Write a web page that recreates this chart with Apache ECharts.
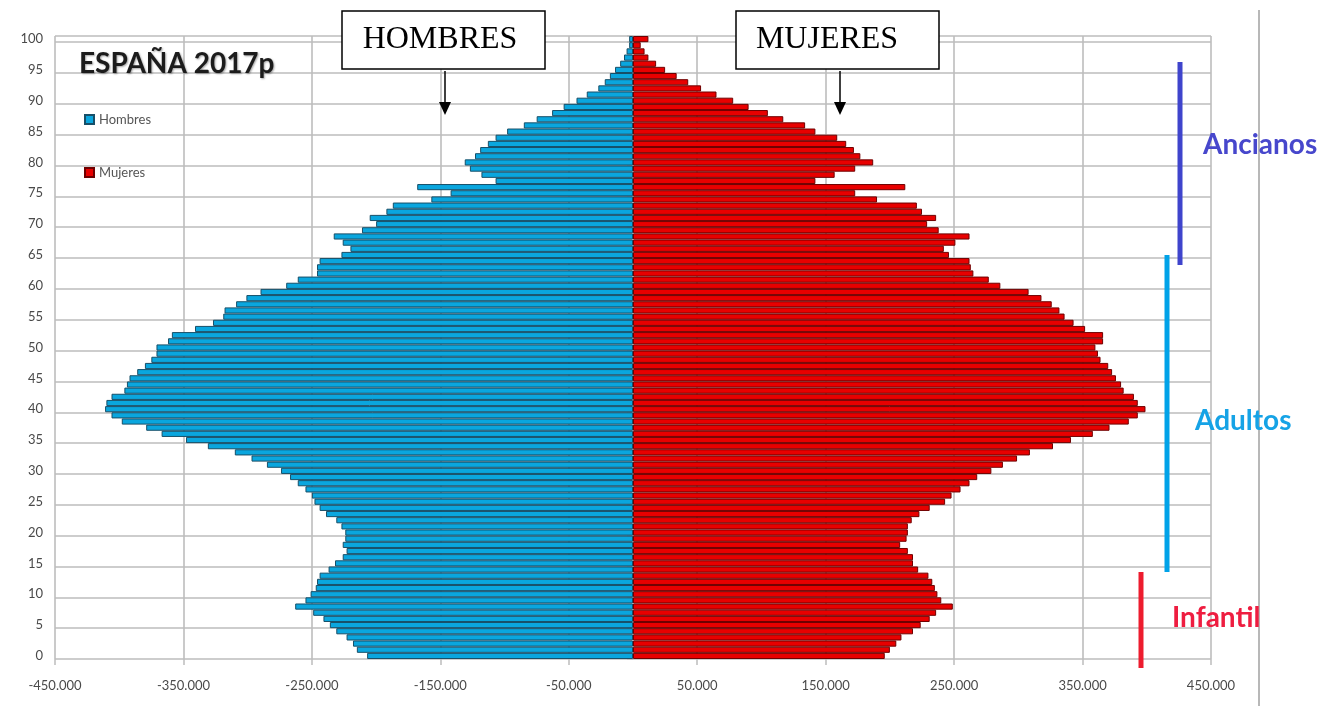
<!DOCTYPE html>
<html style="height: 100%">
<head>
<meta charset="utf-8">
<script src="https://cdn.jsdelivr.net/npm/echarts/dist/echarts.min.js"></script>
<style>
  body { margin: 0; background: #fff; }
  #container { width: 1336px; height: 706px; }
</style>
</head>
<body>
<div id="container"></div>
<script>
// edades 0..100
var edades = [];
for (var i = 0; i <= 100; i++) { edades.push(String(i)); }

// Hombres (negativos para la piramide), edad 0 -> 100
var hombres = [
  -207000, -215000, -218000, -223000, -231000, -236000, -241000, -249000, -263000, -255000,
  -251000, -247000, -246000, -244000, -237000, -232000, -226000, -223000, -226000, -224000,
  -224000, -227000, -231000, -239000, -244000, -248000, -250000, -255000, -261000, -267000,
  -274000, -285000, -297000, -310000, -331000, -348000, -367000, -379000, -398000, -406000,
  -411000, -410000, -406000, -396000, -394000, -392000, -386000, -380000, -375000, -371000,
  -371000, -362000, -359000, -341000, -327000, -319000, -318000, -309000, -301000, -290000,
  -270000, -261000, -246000, -246000, -244000, -227000, -220000, -226000, -233000, -211000,
  -200000, -205000, -192000, -187000, -157000, -142000, -168000, -107000, -118000, -127000,
  -131000, -123000, -119000, -113000, -107000, -98000, -85000, -75000, -63000, -54000,
  -44000, -36000, -27000, -22000, -18000, -14000, -10000, -7000, -5000, -3000,
  -3000
];

// Mujeres, edad 0 -> 100
var mujeres = [
  196000, 200000, 205000, 209000, 218000, 224000, 231000, 236000, 249000, 240000,
  237000, 235000, 233000, 230000, 222000, 218000, 218000, 214000, 208000, 213000,
  214000, 214000, 217000, 223000, 231000, 243000, 248000, 255000, 262000, 268000,
  279000, 288000, 299000, 309000, 327000, 341000, 358000, 371000, 386000, 393000,
  399000, 393000, 390000, 382000, 380000, 376000, 373000, 370000, 364000, 362000,
  360000, 366000, 366000, 352000, 343000, 336000, 332000, 326000, 318000, 308000,
  286000, 277000, 265000, 263000, 262000, 246000, 242000, 251000, 262000, 238000,
  229000, 236000, 225000, 221000, 190000, 173000, 212000, 142000, 157000, 173000,
  187000, 177000, 172000, 166000, 159000, 142000, 134000, 117000, 105000, 90000,
  78000, 65000, 53000, 43000, 34000, 25000, 18000, 12000, 9000, 6000,
  12000
];

function fmt(v) {
  var s = Math.abs(v).toString().replace(/\B(?=(\d{3})+(?!\d))/g, '.');
  return (v < 0 ? '-' : '') + s;
}

var chart = echarts.init(document.getElementById('container'));
var gris = '#bdbdbd';

chart.setOption({
  animation: false,
  backgroundColor: '#fff',
  title: {
    text: 'ESPAÑA 2017p',
    left: 74,
    top: 45,
    textStyle: {
      fontFamily: 'Lato', fontSize: 28, fontWeight: 'bold', color: '#1c1c1c',
      textShadowColor: 'rgba(0,0,0,0.35)', textShadowBlur: 2, textShadowOffsetX: 1, textShadowOffsetY: 1
    }
  },
  legend: {
    orient: 'vertical',
    left: 79,
    top: 108,
    itemWidth: 9,
    itemHeight: 9,
    itemGap: 40,
    icon: 'rect',
    textStyle: { fontFamily: 'Lato', fontSize: 13, color: '#555', padding: [0, 0, 0, 0] },
    data: ['Hombres', 'Mujeres']
  },
  grid: { left: 55, right: 125, top: 36, bottom: 47 },
  xAxis: {
    type: 'value',
    min: -450000,
    max: 450000,
    interval: 100000,
    axisLine: { show: false },
    axisTick: { show: true, length: 6, lineStyle: { color: gris, width: 1.5 } },
    axisLabel: { formatter: fmt, margin: 20, fontFamily: 'Lato', fontSize: 13, color: '#4a4a4a' },
    splitLine: { show: true, lineStyle: { color: gris, width: 1.6 } }
  },
  yAxis: {
    type: 'category',
    data: edades,
    boundaryGap: true,
    axisLine: { show: false },
    axisTick: { show: true, interval: 4, length: 6, lineStyle: { color: gris, width: 1.5 } },
    axisLabel: { interval: 4, margin: 12, fontFamily: 'Lato', fontSize: 13, color: '#4a4a4a' },
    splitLine: { show: true, interval: 4, lineStyle: { color: gris, width: 1.6 } }
  },
  series: [
    {
      name: 'Hombres',
      type: 'bar',
      stack: 'pop',
      barCategoryGap: '0%',
      data: hombres,
      itemStyle: { color: '#0aa6de', borderColor: '#174f68', borderWidth: 1 }
    },
    {
      name: 'Mujeres',
      type: 'bar',
      stack: 'pop',
      barCategoryGap: '0%',
      data: mujeres,
      itemStyle: { color: '#e80000', borderColor: '#6e0000', borderWidth: 1 }
    }
  ],
  graphic: [
    // recuadros HOMBRES / MUJERES
    { type: 'rect', z: 100, shape: { x: 342, y: 11, width: 203, height: 58 },
      style: { fill: '#fff', stroke: '#000', lineWidth: 1.5 } },
    { type: 'text', z: 101, x: 440, y: 40,
      style: { text: 'HOMBRES', fill: '#000', font: '32px "Liberation Serif"', textAlign: 'center', textVerticalAlign: 'middle' } },
    { type: 'line', z: 100, shape: { x1: 445, y1: 71, x2: 445, y2: 104 }, style: { stroke: '#000', lineWidth: 1.5 } },
    { type: 'polygon', z: 100, shape: { points: [[439, 102], [451, 102], [445, 115]] }, style: { fill: '#000' } },

    { type: 'rect', z: 100, shape: { x: 736, y: 11, width: 203, height: 58 },
      style: { fill: '#fff', stroke: '#000', lineWidth: 1.5 } },
    { type: 'text', z: 101, x: 827, y: 40,
      style: { text: 'MUJERES', fill: '#000', font: '32px "Liberation Serif"', textAlign: 'center', textVerticalAlign: 'middle' } },
    { type: 'line', z: 100, shape: { x1: 840, y1: 71, x2: 840, y2: 104 }, style: { stroke: '#000', lineWidth: 1.5 } },
    { type: 'polygon', z: 100, shape: { points: [[834, 102], [846, 102], [840, 115]] }, style: { fill: '#000' } },

    // grupos de edad
    { type: 'line', z: 100, shape: { x1: 1180, y1: 62, x2: 1180, y2: 265 }, style: { stroke: '#3f44cc', lineWidth: 5 } },
    { type: 'text', z: 101, x: 1203, y: 145,
      style: { text: 'Ancianos', fill: '#4747cc', font: 'bold 28px Lato', textVerticalAlign: 'middle' } },
    { type: 'line', z: 100, shape: { x1: 1167, y1: 255, x2: 1167, y2: 572 }, style: { stroke: '#00a2e8', lineWidth: 5 } },
    { type: 'text', z: 101, x: 1195, y: 421,
      style: { text: 'Adultos', fill: '#16a3e6', font: 'bold 28px Lato', textVerticalAlign: 'middle' } },
    { type: 'line', z: 100, shape: { x1: 1141, y1: 572, x2: 1141, y2: 668 }, style: { stroke: '#ed1c2e', lineWidth: 5 } },
    { type: 'text', z: 101, x: 1172, y: 618,
      style: { text: 'Infantil', fill: '#ee1d40', font: 'bold 28px Lato', textVerticalAlign: 'middle' } },

    // borde derecho
    { type: 'line', z: 100, shape: { x1: 1259, y1: 10, x2: 1259, y2: 706 }, style: { stroke: '#a0a0a0', lineWidth: 1.5 } }
  ]
});
</script>
</body>
</html>
